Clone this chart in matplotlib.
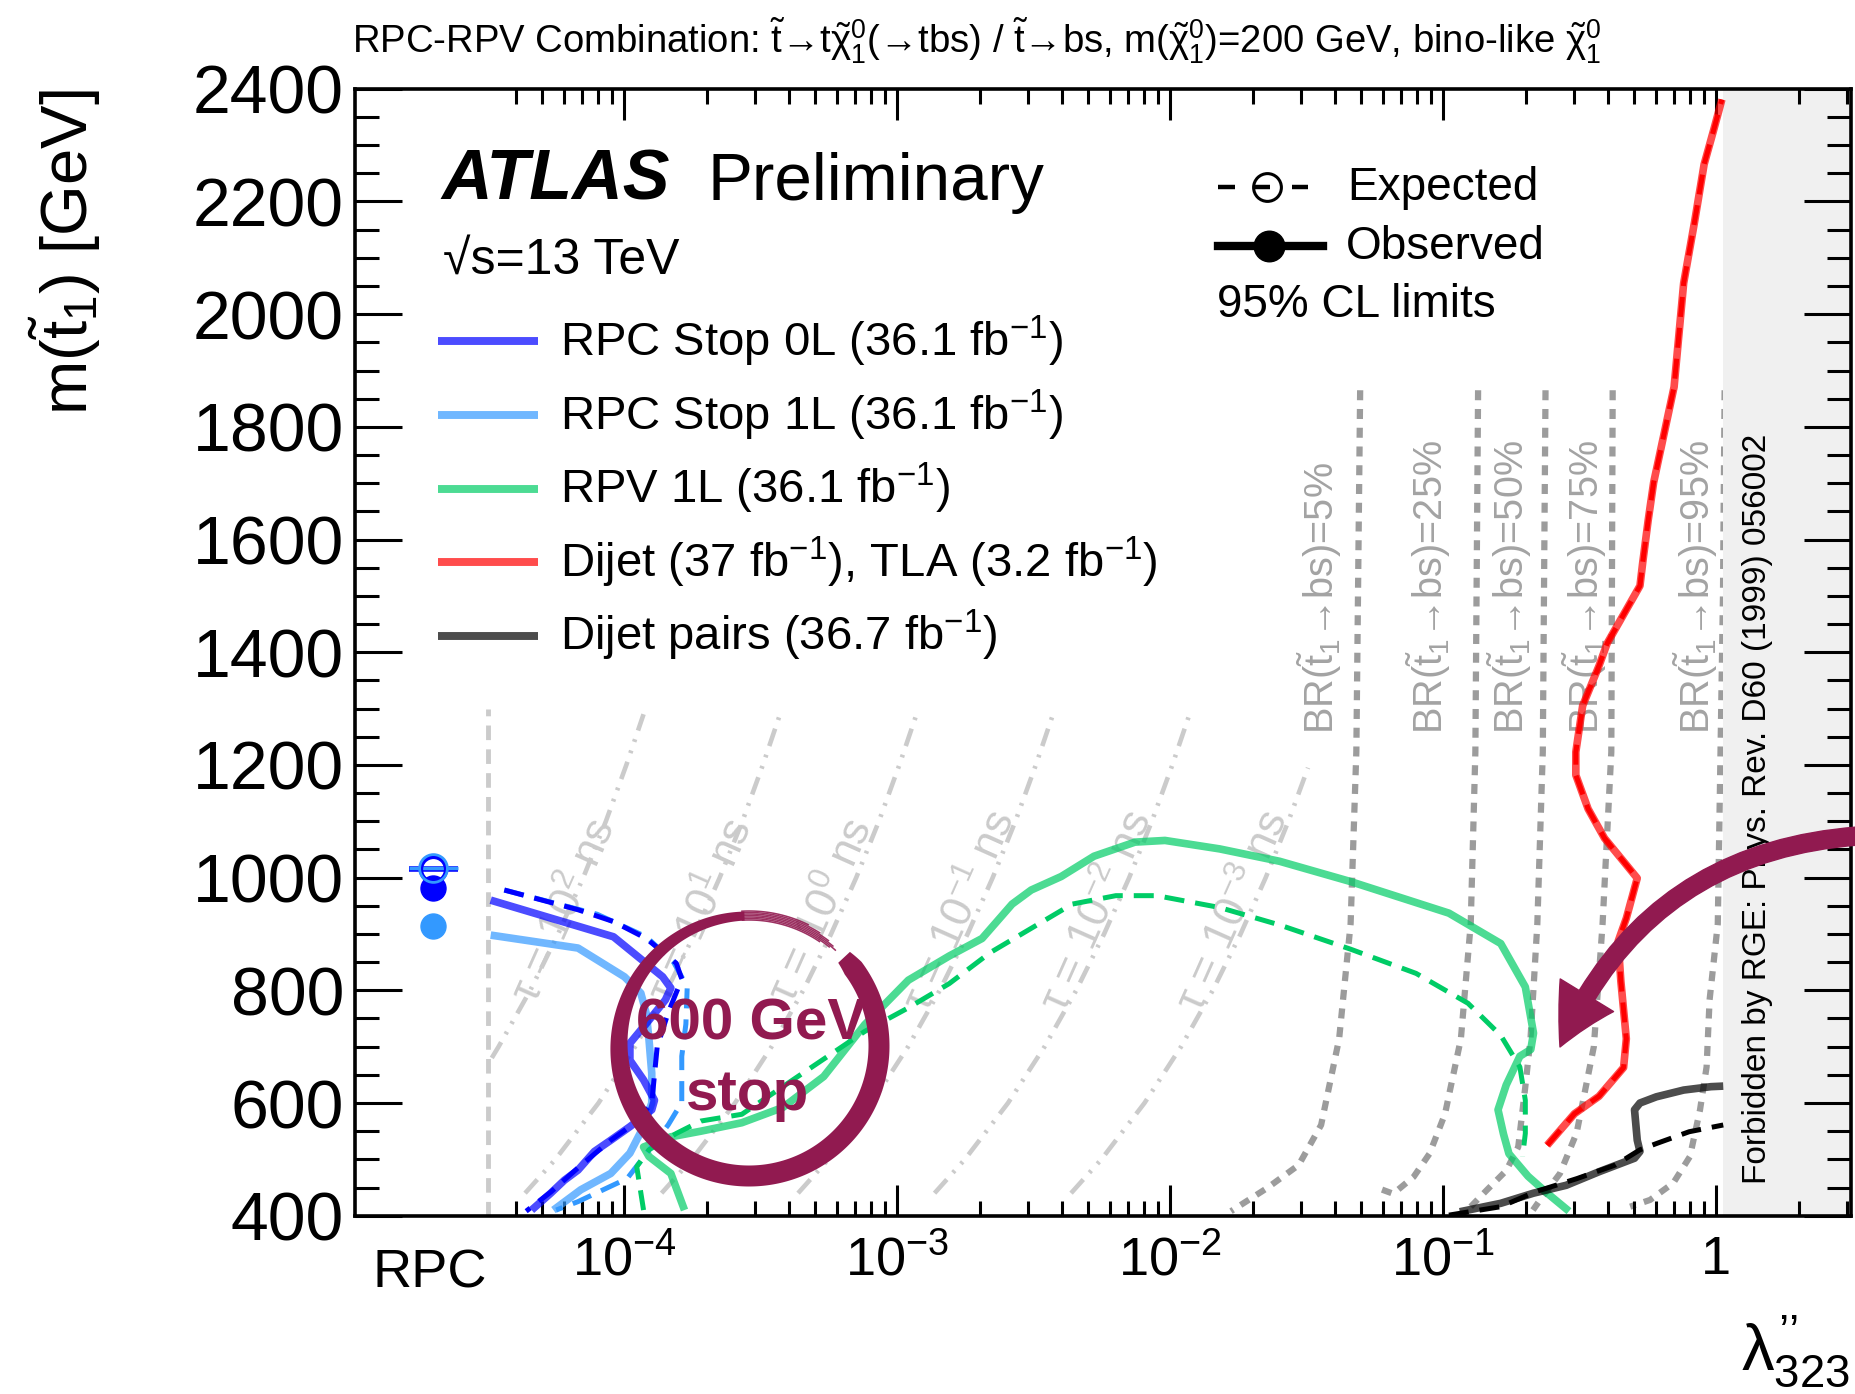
import numpy as np
import matplotlib
matplotlib.use("Agg")
import matplotlib.pyplot as plt
import matplotlib.transforms as mtransforms
from matplotlib.patches import Rectangle, Polygon, FancyArrowPatch
from matplotlib.ticker import FixedLocator, FixedFormatter, MultipleLocator

plt.rcParams['font.family'] = ['Liberation Sans', 'DejaVu Sans']
plt.rcParams['mathtext.fontset'] = 'custom'
plt.rcParams['mathtext.rm'] = 'Liberation Sans'
plt.rcParams['mathtext.it'] = 'Liberation Sans'
plt.rcParams['mathtext.bf'] = 'Liberation Sans:bold'

W, H = 1856, 1394

# ---------------- limits: log10(lambda''_323) vs m(stop) [GeV] ----------------
stop0l_obs_lx = [-4.49, -4.04, -3.86, -3.83, -3.85, -3.91, -3.98, -3.98, -3.93, -3.89,
                 -3.90, -3.98, -4.05, -4.11, -4.17, -4.22, -4.27, -4.34]
stop0l_obs_m = [960, 895, 824, 804, 783, 747, 706, 676, 641, 605,
                588, 558, 534, 514, 481, 463, 440, 410]
stop0l_exp_lx = [-4.44, -4.17, -4.04, -3.92, -3.81, -3.79, -3.84, -3.88, -3.89, -3.90,
                 -3.96, -4.05, -4.17, -4.27, -4.36]
stop0l_exp_m = [978, 943, 922, 892, 848, 820, 760, 700, 650, 600,
                565, 534, 485, 442, 408]

stop1l_obs_lx = [-4.49, -4.17, -4.00, -3.94, -3.92, -3.91, -3.90, -3.90, -3.93, -3.98,
                 -4.05, -4.16, -4.26]
stop1l_obs_m = [898, 875, 824, 795, 759, 712, 653, 600, 558, 511, 475, 446, 410]
stop1l_exp_lx = [-4.44, -4.10, -3.92, -3.82, -3.77, -3.775, -3.79, -3.79, -3.84, -3.92,
                 -3.99, -4.17, -4.25]
stop1l_exp_m = [978, 935, 895, 850, 806, 740, 683, 601, 561, 510, 466, 425, 410]

rpv1l_obs_lx = [-3.78, -3.83, -3.91, -3.93, -3.83, -3.72, -3.57, -3.42, -3.27, -3.12,
                -2.96, -2.81, -2.69, -2.58, -2.51, -2.40, -2.28, -2.13, -2.02, -1.82,
                -1.60, -1.34, -0.98, -0.79, -0.70, -0.67, -0.68, -0.72, -0.77, -0.80,
                -0.78, -0.76, -0.69, -0.62, -0.54]
rpv1l_obs_m = [410, 475, 505, 522, 540, 550, 565, 592, 647, 739,
               818, 861, 892, 953, 978, 1002, 1038, 1063, 1066, 1051,
               1029, 993, 937, 883, 806, 724, 695, 683, 632, 588,
               545, 510, 470, 440, 408]
rpv1l_exp_lx = [-3.93, -3.955, -3.91, -3.81, -3.72, -3.57, -3.42, -3.27, -3.12, -2.96,
                -2.81, -2.66, -2.51, -2.36, -2.20, -2.05, -1.82, -1.60, -1.34, -1.10,
                -0.91, -0.79, -0.72, -0.70, -0.70, -0.71]
rpv1l_exp_m = [410, 487, 517, 546, 568, 580, 629, 678, 727, 769,
               812, 867, 910, 953, 968, 968, 947, 916, 873, 830,
               777, 720, 664, 605, 546, 505]

dijet_obs_lx = [-0.62, -0.52, -0.43, -0.34, -0.33, -0.35, -0.36, -0.33, -0.29, -0.41,
                -0.47, -0.515, -0.515, -0.49, -0.43, -0.40, -0.28, -0.27, -0.25, -0.23,
                -0.20, -0.155, -0.12, -0.08, -0.045, -0.01, 0.02]
dijet_obs_m = [525, 581, 612, 663, 714, 816, 887, 928, 999, 1070,
               1122, 1182, 1223, 1305, 1376, 1416, 1518, 1559, 1634, 1701,
               1769, 1871, 2055, 2164, 2266, 2327, 2381]
# expected dijet/TLA limit lies on top of the observed one
dijet_exp_lx = list(dijet_obs_lx)
dijet_exp_m = list(dijet_obs_m)

pairs_obs_lx = [-0.94, -0.79, -0.67, -0.55, -0.43, -0.30, -0.28, -0.29, -0.30, -0.28,
                -0.22, -0.12, -0.02, 0.025]
pairs_obs_m = [407, 422, 440, 454, 478, 502, 514, 534, 588, 600, 611, 623, 629, 630]
pairs_exp_lx = [-0.98, -0.79, -0.66, -0.51, -0.37, -0.28, -0.22, -0.10, 0.025]
pairs_exp_m = [401, 416, 443, 466, 490, 517, 528, 549, 561]

# RPC-only points (lambda'' -> 0)
rpc_lx = -4.70
rpc_exp_m = [1015, 1017]      # 0L, 1L
rpc_obs_m = [982, 915]        # 0L, 1L

# ---------------- branching ratio contours ----------------
br_m = {
    '5': [1865, 1223, 918, 714, 561, 490, 449, 408],
    '25': [1865, 1223, 918, 714, 581, 510, 469, 439, 449],
    '50': [1865, 1223, 918, 714, 629, 522, 480, 446, 416],
    '75': [1865, 1223, 918, 700, 547, 475, 428, 410],
    '95': [1865, 1500, 1223, 918, 783, 664, 588, 505, 458, 428, 416],
}
br_lx = {
    '5': [-1.305, -1.319, -1.34, -1.382, -1.448, -1.53, -1.646, -1.778],
    '25': [-0.873, -0.883, -0.90, -0.936, -0.994, -1.051, -1.109, -1.184, -1.24],
    '50': [-0.626, -0.636, -0.656, -0.681, -0.70, -0.726, -0.77, -0.84, -0.90],
    '75': [-0.380, -0.385, -0.417, -0.449, -0.512, -0.573, -0.646, -0.672],
    '95': [0.03, 0.024, 0.015, 0.005, -0.025, -0.036, -0.06, -0.097, -0.158, -0.243, -0.316],
}
br_label_lx = {'5': -1.455, '25': -1.055, '50': -0.757, '75': -0.483, '95': -0.076}

# ---------------- neutralino lifetime contours ----------------
tau_m = [440, 500, 600, 700, 800, 900, 1000, 1100, 1200, 1290]
tau_lx = {
    '2': [-4.486, -4.461, -4.345, -4.243, -4.151, -4.068, -3.993, -3.93],
    '1': [-4.364, -4.253, -4.095, -3.961, -3.845, -3.743, -3.651, -3.568, -3.493, -3.43],
    '0': [-3.864, -3.753, -3.595, -3.461, -3.345, -3.243, -3.151, -3.068, -2.993, -2.93],
    '-1': [-3.364, -3.253, -3.095, -2.961, -2.845, -2.743, -2.651, -2.568, -2.493, -2.43],
    '-2': [-2.864, -2.753, -2.595, -2.461, -2.345, -2.243, -2.151, -2.068, -1.993, -1.93],
    '-3': [-2.364, -2.253, -2.095, -1.961, -1.845, -1.743, -1.651, -1.568, -1.496],
}
tau_m_short = {
    '2': [680, 700, 800, 900, 1000, 1100, 1200, 1290],
    '-3': [440, 500, 600, 700, 800, 900, 1000, 1100, 1195],
}
tau_label_lx = {'2': -4.215, '1': -3.715, '0': -3.274, '-1': -2.767, '-2': -2.264, '-3': -1.765}

c0L, c1L, cRPV, cDij, cPair = '#0000ff', '#3399ff', '#00cc66', '#ff0000', '#000000'
maroon = '#911a50'
tau_col, br_col = '#cbcbcb', '#9c9c9c'


def lam(v):
    return [10 ** x for x in v]


fig = plt.figure(figsize=(W / 100, H / 100), dpi=100)
ax = fig.add_axes([355 / W, 1 - 1215.7 / H, (1851 - 355) / W, (1215.7 - 88.8) / H])
ax.set_xscale('log')
ax.set_xlim(10 ** -4.987, 10 ** 0.493)
ax.set_ylim(400, 2400)

# forbidden region
x_forb = 10 ** 0.025
ax.add_patch(Rectangle((x_forb, 400), 10 ** 0.6 - x_forb, 2000, facecolor='#f0f0f0',
                       edgecolor='none', zorder=1.0))
ax.text(10 ** 0.152, 457, 'Forbidden by RGE: Phys. Rev. D60 (1999) 056002', rotation=90,
        ha='center', va='bottom', fontsize=24, zorder=1.1)

# RPC / RPV boundary
ax.plot([10 ** -4.5, 10 ** -4.5], [400, 1300], color=tau_col, lw=3.5, dashes=(3, 1.9), zorder=0.8)

for k, lx in tau_lx.items():
    mm = tau_m_short.get(k, tau_m)
    ax.plot(lam(lx), mm, color=tau_col, lw=3.3, dashes=(4, 2, 0.6, 2, 0.6, 2), zorder=0.8)
    ax.text(10 ** tau_label_lx[k], 940, r'$\tau$ = 10$^{%s}$ ns' % k.replace('-', '\u2212'),
            rotation=66, rotation_mode='anchor', ha='center', va='center',
            color=tau_col, fontsize=32, zorder=0.8)

for k, lx in br_lx.items():
    ax.plot(lam(lx), br_m[k], color=br_col, lw=4.5, dashes=(1.6, 1.4), zorder=0.9)
    ax.text(10 ** br_label_lx[k], 1255, 'BR($\\tilde{t}_{1}$\u2192bs)=%s%%' % k,
            rotation=90, ha='center', va='bottom', color='#a3a3a3', fontsize=28.5, zorder=0.9)

obs_kw = dict(lw=5.5, alpha=0.7, solid_capstyle='butt', solid_joinstyle='round', zorder=3)
exp_kw = dict(lw=3.6, dashes=(4, 2.2), zorder=4)

ax.plot(lam(stop1l_obs_lx), stop1l_obs_m, color=c1L, **obs_kw)
ax.plot(lam(stop0l_obs_lx), stop0l_obs_m, color=c0L, **obs_kw)
ax.plot(lam(stop1l_exp_lx), stop1l_exp_m, color=c1L, **exp_kw)
ax.plot(lam(stop0l_exp_lx), stop0l_exp_m, color=c0L, **exp_kw)
ax.plot(lam(rpv1l_obs_lx), rpv1l_obs_m, color=cRPV, **obs_kw)
ax.plot(lam(rpv1l_exp_lx), rpv1l_exp_m, color=cRPV, **exp_kw)
ax.plot(lam(dijet_obs_lx), dijet_obs_m, color=cDij, **obs_kw)
ax.plot(lam(dijet_exp_lx), dijet_exp_m, color=cDij, **exp_kw)
ax.plot(lam(pairs_obs_lx), pairs_obs_m, color=cPair, **obs_kw)
ax.plot(lam(pairs_exp_lx), pairs_exp_m, color=cPair, **exp_kw)

# RPC-only markers
xr = 10 ** rpc_lx
ax.hlines(rpc_exp_m[0], xr / 1.23, xr * 1.23, color=c0L, lw=4, zorder=4)
ax.hlines(rpc_exp_m[1], xr / 1.23, xr * 1.23, color=c1L, lw=2.5, zorder=4)
ax.plot(xr, rpc_obs_m[0], 'o', color=c0L, ms=18, zorder=5)
ax.plot(xr, rpc_obs_m[1], 'o', color=c1L, ms=18, zorder=5)
ax.plot(xr, rpc_exp_m[0], 'o', mfc='none', mec=c0L, ms=18, mew=3, zorder=5)
ax.plot(xr, rpc_exp_m[1], 'o', mfc='none', mec=c1L, ms=20, mew=2, zorder=5)

# axes styling
for s in ax.spines.values():
    s.set_linewidth(2.6)
decades = [1e-4, 1e-3, 1e-2, 1e-1, 1]
minors = [k * d for d in [1e-5, 1e-4, 1e-3, 1e-2, 1e-1, 1] for k in range(2, 10)]
minors = [v for v in minors if 3.9e-5 < v < 10 ** 0.49]
ax.xaxis.set_major_locator(FixedLocator(decades))
ax.xaxis.set_major_formatter(FixedFormatter([r'$10^{-4}$', r'$10^{-3}$', r'$10^{-2}$',
                                             r'$10^{-1}$', '1']))
ax.xaxis.set_minor_locator(FixedLocator(minors))
ax.xaxis.set_minor_formatter(FixedFormatter([''] * len(minors)))
ax.yaxis.set_major_locator(MultipleLocator(200))
ax.yaxis.set_minor_locator(MultipleLocator(50))
ax.tick_params(axis='both', which='both', direction='in', top=True, right=True, width=2.2)
ax.tick_params(axis='x', which='major', length=22, labelsize=39, pad=14)
ax.tick_params(axis='x', which='minor', length=11)
ax.tick_params(axis='y', which='major', length=34, labelsize=49, pad=8)
ax.tick_params(axis='y', which='minor', length=17)

trans = mtransforms.blended_transform_factory(ax.transData, ax.transAxes)
ax.text(10 ** -4.715, -0.064, 'RPC', transform=trans, ha='center', va='baseline', fontsize=39)

# ---------------- overlay in pixel coordinates ----------------
ov = fig.add_axes([0, 0, 1, 1], zorder=5)
ov.set_xlim(0, W)
ov.set_ylim(H, 0)
ov.axis('off')
ov.patch.set_alpha(0)

ov.text(352, 53, 'RPC-RPV Combination: $\\tilde{t}$\u2192t$\\tilde{\\chi}^{0}_{1}$(\u2192tbs)'
        ' / $\\tilde{t}$\u2192bs, m($\\tilde{\\chi}^{0}_{1}$)=200 GeV, bino-like $\\tilde{\\chi}^{0}_{1}$',
        fontsize=27.5, va='baseline', ha='left')
ov.text(65, 89, r'm($\tilde{t}_{1}$) [GeV]', rotation=90, ha='center', va='top', fontsize=47)
ov.text(1850, 1390, '$\\lambda^{\u2019\u2019}_{323}$', ha='right', va='bottom', fontsize=47)

ov.text(441, 200, 'ATLAS', fontsize=50.5, fontweight='bold', style='italic', va='baseline')
ov.text(708, 200, 'Preliminary', fontsize=48.5, va='baseline')
ov.text(443, 274, '\u221as=13 TeV', fontsize=36, va='baseline')

leg_rows = [
    (c0L, r'RPC Stop 0L (36.1 fb$^{-1}$)'),
    (c1L, r'RPC Stop 1L (36.1 fb$^{-1}$)'),
    (cRPV, r'RPV 1L (36.1 fb$^{-1}$)'),
    (cDij, r'Dijet (37 fb$^{-1}$), TLA (3.2 fb$^{-1}$)'),
    (cPair, r'Dijet pairs (36.7 fb$^{-1}$)'),
]
for i, (col, lab) in enumerate(leg_rows):
    y = 341.4 + 73.6 * i
    ov.plot([438, 538], [y, y], color=col, alpha=0.7, lw=5.7, solid_capstyle='butt')
    ov.text(560, y + 15, lab, fontsize=34, va='baseline')

ov.hlines([187, 187, 187], [1218, 1255, 1292], [1235, 1270, 1308], color='k', lw=3.2)
ov.plot(1267, 187, 'o', mfc='none', mec='k', ms=20, mew=2.2)
ov.text(1347, 200, 'Expected', fontsize=33, va='baseline')
ov.plot([1218, 1323], [246, 246], color='k', lw=6)
ov.plot(1269, 246, 'o', color='k', ms=22)
ov.text(1346, 259, 'Observed', fontsize=33, va='baseline')
ov.text(1217, 317, '95% CL limits', fontsize=33, va='baseline')

# hand-drawn highlight around the 600 GeV stop
cx, cy, rr = 749, 1046, 130
ang = np.radians(np.linspace(43, -268, 400))
frac = np.linspace(0, 1, ang.size)
half = np.interp(frac, [0, 0.02, 0.6, 0.75, 0.9, 1.0], [8, 10.5, 10.5, 8, 5.5, 4.5])
outer = np.column_stack([cx + (rr + half) * np.cos(ang), cy - (rr + half) * np.sin(ang)])
inner = np.column_stack([cx + (rr - half) * np.cos(ang), cy - (rr - half) * np.sin(ang)])
ov.add_patch(Polygon(np.vstack([outer, inner[::-1]]), closed=True, facecolor=maroon,
                     edgecolor='none'))
for dr, a_end in [(-4, 56), (-2.5, 51), (-1, 48), (0.5, 50), (2, 53), (3.5, 58), (5, 64)]:
    a = np.radians(np.linspace(93, a_end, 60))
    ov.plot(cx + (rr + dr) * np.cos(a), cy - (rr + dr) * np.sin(a), color=maroon, lw=1.1,
            alpha=0.9)
ov.text(751, 1025, '600 GeV', color=maroon, fontsize=42, fontweight='bold',
        ha='center', va='center')
ov.text(748, 1095, 'stop', color=maroon, fontsize=42, fontweight='bold',
        ha='center', va='center')

ov.add_patch(FancyArrowPatch((1858, 836), (1560, 1047), connectionstyle='arc3,rad=0.3',
                             arrowstyle='simple,head_width=45,head_length=42,tail_width=13',
                             mutation_scale=1, color=maroon, shrinkA=0, shrinkB=0))

fig.savefig('out.png', dpi=100)
